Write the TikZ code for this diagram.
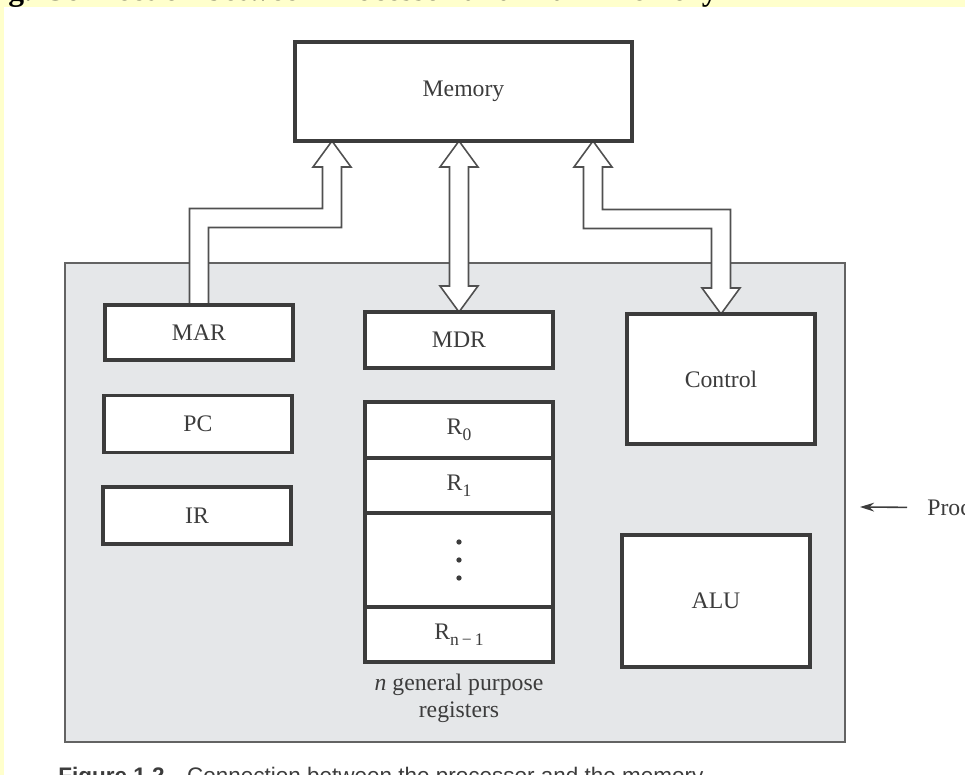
\documentclass[tikz,border=0pt]{standalone}
\usepackage{fontspec}
\setmainfont{Liberation Serif}
\newfontfamily\capfont{Liberation Sans}
\usetikzlibrary{positioning,calc,arrows.meta,backgrounds}
\definecolor{pagebg}{RGB}{255,255,204}
\definecolor{procbg}{RGB}{229,231,233}
\definecolor{ink}{RGB}{60,60,60}
\newcommand{\lblfont}{\fontsize{13.5}{15}\selectfont}
\newcommand{\reg}[1]{R\raisebox{-0.55ex}{\fontsize{10}{10}\selectfont#1}}
\def\px{0.02cm}
\tikzset{
  regbox/.style={draw=ink, line width=2pt, fill=white, text=ink, inner sep=0pt,
    outer sep=0pt, minimum width=188*\px, font=\lblfont},
  bus/.style={draw=ink!90, line width=0.9pt, fill=white, line join=miter},
}
\begin{document}
\begin{tikzpicture}[x=\px,y=-\px]
\pgfmathsetmacro{\bw}{9.5}
\pgfmathsetmacro{\hw}{19}
\pgfmathsetmacro{\hl}{26}
\useasboundingbox (0,0) rectangle (965,775);
%
\node[anchor=base west, inner sep=0pt, font=\fontsize{18}{20}\selectfont\bfseries] (title) at (-20,0)
  {Fig. Connection between Processor and Main Memory};
\node[regbox, minimum width=337*\px, minimum height=99*\px] (mem) at (463.5,91.5) {Memory};
%
\node[regbox, minimum height=55*\px] (mar) at (199,332.5) {MAR};
\node[regbox, minimum height=57*\px] (pc) at (198,424) {PC};
\node[regbox, minimum height=57*\px] (ir) at (197,515.5) {IR};
%
\node[regbox, minimum height=56*\px] (mdr) at (459,340) {MDR};
\node[regbox, minimum height=56*\px, below=0.68cm of mdr] (r0) {\reg{0}};
\node[regbox, minimum height=55*\px, below=0pt of r0] (r1) {\reg{1}};
\node[regbox, minimum height=94*\px, below=0pt of r1] (rdots) {};
\node[regbox, minimum height=55*\px, below=0pt of rdots] (rn) {\reg{n\,−\,1}};
\foreach \d in {-18,0,18}{\fill[ink] ($(rdots.center)+(0,\d)$) circle (1.5pt);}
\node[below=0.24cm of rn, align=center, inner sep=0pt, text=ink, font=\lblfont] (gpr)
  {\textit{n} general purpose\\registers};
%
\node[regbox, minimum height=130*\px] (ctrl) at (721,379) {Control};
\node[regbox, minimum height=132*\px] (alu) at (716,601) {ALU};
%
\node[anchor=base west, inner ysep=0pt, inner xsep=0.4cm, text=ink, font=\lblfont] (proc) at (907,515) {Processor};
\coordinate (procedge) at (860,507);
\draw[ink, line width=0.9pt, -{Stealth[length=8pt,width=5pt]}] (proc.west) -- (procedge);
%
\node[anchor=base west, inner sep=0pt, text=ink, font=\capfont\fontsize{12.8}{14}\selectfont] (caption) at (58,783)
  {\textbf{Figure 1.2}\quad Connection between the processor and the memory};
%
\coordinate (marin) at ($(mem.south west)+(37,0)$);
\coordinate (cin) at ($(mem.south east)+(-39,0)$);
\coordinate (mdin) at (mem.south -| mdr.north);
\path (mar.north) ++(0,-87) coordinate (marbend);
\coordinate (cout) at (ctrl.north);
\path (cout) ++(0,-95) coordinate (cbend);
%===========================
\begin{scope}[on background layer]
\fill[pagebg] (0,0) rectangle (965,775);
\fill[white] (4,7) rectangle (965,775);
\filldraw[fill=procbg, draw=ink!80, line width=1pt] (65,263) rectangle (845,742);
% MAR -> memory
\draw[bus] ($(mar.north)+(-\bw,0)$) |- ($(marbend -| marin)+(-\bw,-\bw)$) -- ($(marin)+(-\bw,\hl)$)
  -- ++(\bw-\hw,0) -- (marin) -- ++(\hw,\hl) -- ++(\bw-\hw,0) |- ($(marbend)+(\bw,\bw)$)
  -- ($(mar.north)+(\bw,0)$);
% memory <-> MDR
\draw[bus] (mdin) -- ++(\hw,\hl) -- ++(\bw-\hw,0) -- ($(mdr.north)+(\bw,-\hl)$) -- ++(\hw-\bw,0)
  -- (mdr.north) -- ++(-\hw,-\hl) -- ++(\hw-\bw,0) -- ($(mdin)+(-\bw,\hl)$) -- ++(\bw-\hw,0) -- cycle;
% memory <-> control
\draw[bus] (cin) -- ++(\hw,\hl) -- ++(\bw-\hw,0) |- ($(cbend)+(\bw,-\bw)$) -- ($(cout)+(\bw,-\hl)$)
  -- ++(\hw-\bw,0) -- (cout) -- ++(-\hw,-\hl) -- ++(\hw-\bw,0) |- ($(cbend -| cin)+(-\bw,\bw)$)
  -- ($(cin)+(-\bw,\hl)$) -- ++(\bw-\hw,0) -- cycle;
\end{scope}
\end{tikzpicture}
\end{document}
